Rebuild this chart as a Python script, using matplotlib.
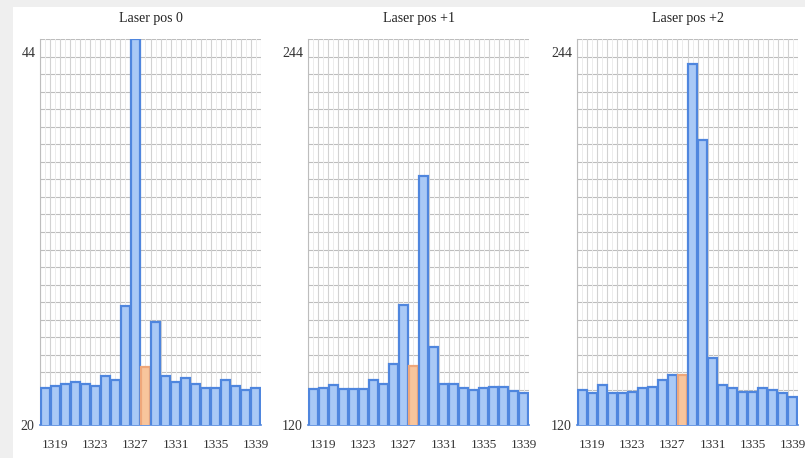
import matplotlib
matplotlib.use("Agg")
import matplotlib.pyplot as plt
import numpy as np

categories = list(range(1318, 1340))
tick_labels = ["1319", "1323", "1327", "1331", "1335", "1339"]
tick_cats = [1319, 1323, 1327, 1331, 1335, 1339]
titles = ["Laser pos 0", "Laser pos +1", "Laser pos +2"]
highlight_cat = 1328

pos0 = [22.3, 22.4, 22.55, 22.65, 22.55, 22.45, 23.05, 22.8, 27.4, 44.0, 23.6,
        26.4, 23.05, 22.65, 22.9, 22.55, 22.3, 22.3, 22.8, 22.4, 22.2, 22.3]
pos1 = [131.5, 132.0, 132.9, 131.5, 131.5, 131.5, 134.5, 133.2, 139.6, 158.4, 138.8,
        200.1, 145.2, 133.1, 133.1, 131.8, 131.3, 131.8, 132.3, 132.3, 131.0, 130.2]
pos2 = [131.3, 130.2, 132.9, 130.2, 130.2, 130.7, 131.8, 132.3, 134.5, 136.1, 136.1,
        236.1, 211.6, 141.4, 132.9, 131.8, 130.7, 130.7, 131.8, 131.3, 130.2, 128.9]
series = [pos0, pos1, pos2]
y_ranges = [(20, 44), (120, 244), (120, 244)]

fig = plt.figure(figsize=(8.05, 4.58), dpi=100, facecolor="#efefef")
bg = fig.add_axes([13 / 805, 0, 1 - 13 / 805, 1 - 7 / 458], zorder=-10)
bg.set_facecolor("white")
bg.set_xticks([])
bg.set_yticks([])
for s in bg.spines.values():
    s.set_visible(False)

lefts = [40, 308, 577]
width_px = 221
top_px, bot_px = 39, 425
font = ["Liberation Serif", "DejaVu Serif"]

for i in range(3):
    ax = fig.add_axes([lefts[i] / 805, 1 - bot_px / 458, width_px / 805, (bot_px - top_px) / 458])
    ax.set_facecolor("none")
    x = np.arange(len(categories))
    vals = series[i]
    fcols = ["#f8c59c" if c == highlight_cat else "#a9c9f6" for c in categories]
    ecols = ["#efa77a" if c == highlight_cat else "#4f86de" for c in categories]
    ax.bar(x, vals, width=0.9, color=fcols, edgecolor=ecols, linewidth=1.6, zorder=3)
    lo, hi = y_ranges[i]
    ax.set_ylim(lo, hi)
    ax.set_xlim(-0.5, len(categories) - 0.5)
    for gy in np.linspace(lo, hi, 23):
        ax.axhline(gy, color="#bdbdbd", lw=0.8, zorder=1)
    for gx in np.arange(-0.5, len(categories), 1.0):
        ax.axvline(gx, color="#d2d2d2", lw=0.8, zorder=1)
    for gx in np.arange(0, len(categories), 1.0):
        ax.axvline(gx, color="#ececec", lw=0.7, zorder=1)
    for s in ["top", "right"]:
        ax.spines[s].set_visible(False)
    ax.spines["left"].set_color("#bdbdbd")
    ax.spines["bottom"].set_color("#4f86de")
    ax.spines["bottom"].set_linewidth(1.2)
    ax.set_yticks([lo])
    ax.set_yticklabels([str(lo)], fontfamily=font, fontsize=10, color="#333333")
    ax.annotate(str(hi), xy=(0, hi), xycoords=("axes fraction", "data"),
                xytext=(-3, -6), textcoords="offset points", ha="right", va="top",
                fontfamily=font, fontsize=10, color="#333333")
    ax.tick_params(axis="y", length=0, pad=4)
    ax.set_xticks([categories.index(c) for c in tick_cats])
    ax.set_xticklabels(tick_labels, fontfamily=font, fontsize=9.5, color="#333333")
    ax.tick_params(axis="x", length=0, pad=10)
    ax.set_title(titles[i], fontfamily=font, fontsize=10, color="#222222", pad=12)

fig.savefig("out.png", dpi=100, facecolor=fig.get_facecolor())
